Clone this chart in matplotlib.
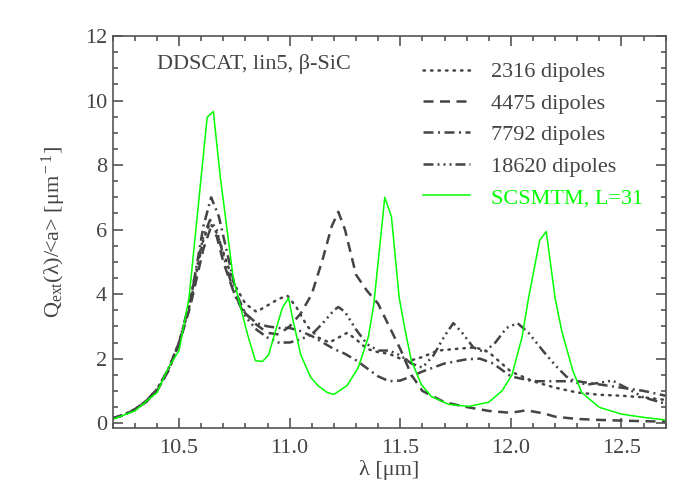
import matplotlib
matplotlib.use('Agg')
import matplotlib.pyplot as plt
from matplotlib.ticker import MultipleLocator

plt.rcParams['font.family'] = ['Liberation Serif', 'DejaVu Serif']
plt.rcParams['mathtext.fontset'] = 'custom'
plt.rcParams['mathtext.rm'] = 'Liberation Serif'
plt.rcParams['mathtext.it'] = 'Liberation Serif:italic'

GREY = '#444444'
AXC = '#555555'
FS = 16

# values
wl_2316 = [10.2, 10.25, 10.3, 10.35, 10.4, 10.45, 10.5, 10.55, 10.58, 10.61,
           10.64, 10.67, 10.7, 10.75, 10.8, 10.85, 10.9, 10.95, 10.99, 11.03,
           11.08, 11.13, 11.18, 11.22, 11.26, 11.3, 11.35, 11.4, 11.45, 11.5,
           11.55, 11.6, 11.67, 11.75, 11.84, 11.9, 11.95, 12.0, 12.1, 12.2,
           12.3, 12.4, 12.5, 12.6, 12.7]
q_2316 = [0.15, 0.25, 0.42, 0.65, 1.0, 1.6, 2.45, 3.7, 4.7, 5.7,
          6.2, 5.9, 5.3, 4.3, 3.7, 3.45, 3.65, 3.85, 3.95, 3.6,
          3.0, 2.65, 2.5, 2.65, 2.8, 2.6, 2.3, 2.2, 2.15, 2.0,
          1.95, 2.05, 2.25, 2.3, 2.35, 2.2, 1.9, 1.6, 1.3, 1.1,
          0.95, 0.88, 0.85, 0.8, 0.72]

wl_4475 = [10.2, 10.25, 10.3, 10.35, 10.4, 10.45, 10.5, 10.55, 10.58, 10.61,
           10.64, 10.67, 10.7, 10.75, 10.8, 10.85, 10.9, 10.95, 11.0, 11.05,
           11.1, 11.15, 11.19, 11.22, 11.25, 11.3, 11.35, 11.4, 11.45, 11.5,
           11.55, 11.6, 11.7, 11.8, 11.9, 12.0, 12.07, 12.15, 12.2, 12.3,
           12.4, 12.5, 12.6, 12.7]
q_4475 = [0.15, 0.25, 0.42, 0.65, 1.0, 1.6, 2.45, 3.6, 4.5, 5.4,
          6.0, 5.8, 5.0, 4.0, 3.4, 3.05, 2.8, 2.75, 3.0, 3.4,
          4.0, 5.1, 6.1, 6.55, 6.0, 4.6, 4.1, 3.7, 3.0, 2.3,
          1.5, 1.0, 0.65, 0.5, 0.38, 0.32, 0.4, 0.3, 0.2, 0.13,
          0.1, 0.08, 0.06, 0.05]

wl_7792 = [10.2, 10.25, 10.3, 10.35, 10.4, 10.45, 10.5, 10.55, 10.58, 10.61,
           10.645, 10.68, 10.72, 10.76, 10.8, 10.85, 10.9, 10.95, 11.0, 11.05,
           11.1, 11.15, 11.2, 11.25, 11.3, 11.35, 11.4, 11.45, 11.5, 11.55,
           11.6, 11.7, 11.8, 11.86, 11.92, 12.0, 12.1, 12.2, 12.3, 12.4,
           12.5, 12.6, 12.7]
q_7792 = [0.15, 0.26, 0.43, 0.68, 1.05, 1.65, 2.5, 3.8, 4.9, 6.1,
          7.0, 6.4, 5.2, 4.0, 3.4, 3.1, 3.0, 2.95, 2.95, 2.85,
          2.7, 2.5, 2.3, 2.15, 1.95, 1.7, 1.45, 1.3, 1.32, 1.45,
          1.6, 1.85, 1.98, 2.0, 1.85, 1.45, 1.3, 1.3, 1.3, 1.2,
          1.1, 1.0, 0.85]

wl_18620 = [10.2, 10.25, 10.3, 10.35, 10.4, 10.45, 10.5, 10.55, 10.58, 10.61,
            10.64, 10.67, 10.7, 10.75, 10.8, 10.85, 10.9, 10.95, 11.0, 11.05,
            11.1, 11.15, 11.2, 11.22, 11.25, 11.3, 11.35, 11.4, 11.45, 11.5,
            11.55, 11.6, 11.65, 11.7, 11.74, 11.78, 11.83, 11.88, 11.93, 11.98,
            12.03, 12.08, 12.15, 12.2, 12.25, 12.3, 12.35, 12.4, 12.46, 12.52,
            12.6, 12.7]
q_18620 = [0.15, 0.26, 0.43, 0.68, 1.05, 1.65, 2.5, 3.8, 4.8, 5.8,
           6.3, 6.0, 5.2, 4.0, 3.3, 2.9, 2.65, 2.5, 2.5, 2.6,
           2.75, 3.1, 3.5, 3.6, 3.45, 2.9, 2.45, 2.25, 2.25, 2.1,
           1.85, 1.72, 2.1, 2.7, 3.1, 2.8, 2.35, 2.2, 2.5, 2.95,
           3.1, 2.8, 2.2, 1.8, 1.45, 1.25, 1.2, 1.25, 1.32, 1.1,
           0.8, 0.6]

wl_scs = [10.2, 10.3, 10.4, 10.45, 10.5, 10.545, 10.627, 10.655, 10.686, 10.745,
          10.81, 10.845, 10.877, 10.905, 10.936, 10.967, 10.995, 11.013, 11.05, 11.095,
          11.13, 11.17, 11.2, 11.26, 11.31, 11.355, 11.38, 11.43, 11.46, 11.495,
          11.52, 11.55, 11.595, 11.64, 11.72, 11.81, 11.9, 11.96, 12.005, 12.05,
          12.08, 12.13, 12.16, 12.2, 12.23, 12.28, 12.32, 12.4, 12.5, 12.6,
          12.7]
q_scs = [0.12, 0.38, 0.95, 1.7, 2.25, 3.88, 9.48, 9.66, 7.66, 4.49,
         2.74, 1.94, 1.91, 2.12, 2.86, 3.57, 3.88, 3.26, 2.12, 1.42,
         1.15, 0.95, 0.89, 1.17, 1.72, 2.65, 3.66, 7.0, 6.4, 3.9,
         2.95, 1.94, 1.2, 0.83, 0.58, 0.52, 0.65, 1.0, 1.5, 2.65,
         3.88, 5.66, 5.94, 3.88, 2.86, 1.63, 0.95, 0.49, 0.28, 0.18,
         0.1]

fig = plt.figure(figsize=(7, 5), dpi=100)
ax = fig.add_axes([0.161, 0.144, 0.79, 0.784])

lw = 1.8
ax.plot(wl_2316, q_2316, color=GREY, lw=lw, ls=(0, (0.6, 2.4)),
        dash_capstyle='round', label='2316 dipoles')
ax.plot(wl_4475, q_4475, color=GREY, lw=lw, ls=(0, (4.0, 2.6)),
        label='4475 dipoles')
ax.plot(wl_7792, q_7792, color=GREY, lw=lw, ls=(0, (4.0, 1.8, 0.8, 1.8)),
        label='7792 dipoles')
ax.plot(wl_18620, q_18620, color=GREY, lw=lw,
        ls=(0, (4.0, 1.6, 0.8, 1.6, 0.8, 1.6, 0.8, 1.6)),
        label='18620 dipoles')
ax.plot(wl_scs, q_scs, color='#00ff00', lw=1.1, label='SCSMTM, L=31')

ax.set_xlim(10.2, 12.7)
ax.set_ylim(-0.15, 12)
ax.xaxis.set_major_locator(MultipleLocator(0.5))
ax.xaxis.set_minor_locator(MultipleLocator(0.1))
ax.yaxis.set_major_locator(MultipleLocator(2))
ax.yaxis.set_minor_locator(MultipleLocator(0.5))
ax.xaxis.set_major_formatter(plt.FuncFormatter(lambda v, p: f'{v:.1f}'))
ax.tick_params(which='both', direction='in', top=True, right=True,
               colors=AXC, labelcolor=GREY, labelsize=FS, width=1.2)
ax.tick_params(which='major', length=7)
ax.tick_params(which='minor', length=3.5)
ax.tick_params(axis='x', pad=8)
ax.tick_params(axis='y', pad=4)
for s in ax.spines.values():
    s.set_color(AXC)
    s.set_linewidth(1.2)

ax.set_xlabel('λ [μm]', fontsize=FS, color=GREY, labelpad=1)
ax.set_ylabel(r'Q$_{\rm ext}$(λ)/<a> [μm$^{\rm -1}$]', fontsize=FS,
              color=GREY, labelpad=12)

ax.text(0.081, 0.955, 'DDSCAT, lin5, β-SiC', transform=ax.transAxes,
        fontsize=FS, color=GREY, va='top', ha='left')

leg = ax.legend(loc='upper right', bbox_to_anchor=(0.975, 0.957), frameon=False,
                fontsize=FS, handlelength=2.1, handletextpad=0.95,
                labelspacing=0.49, borderaxespad=0.0)
for t, c in zip(leg.get_texts(), [GREY, GREY, GREY, GREY, '#00ff00']):
    t.set_color(c)

fig.savefig('out.png', dpi=100)
